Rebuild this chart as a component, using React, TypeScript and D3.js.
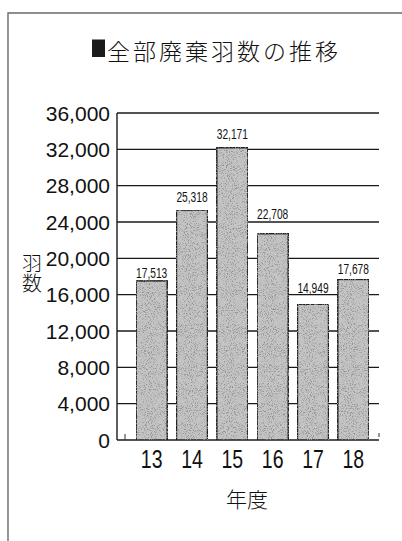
import React from "react";
import * as d3 from "d3";

// 全部廃棄羽数（年度別）
const years = ["13", "14", "15", "16", "17", "18"];
const counts = [17513, 25318, 32171, 22708, 14949, 17678];
const yTicks = [0, 4000, 8000, 12000, 16000, 20000, 24000, 28000, 32000, 36000];

const titleText = "全部廃棄羽数の推移";
const yTitle = "羽数";
const xTitle = "年度";

const W = 402;
const H = 541;
const plot = { left: 117, right: 379, top: 113, bottom: 440 };
// per-bar lift of the value label above the bar top
const labelLift = [3, 8, 9, 15, 11, 5];

const numFont = "'Liberation Sans', Arial, Helvetica, sans-serif";
const cjkFont = "'Noto Sans CJK JP', 'Noto Sans CJK SC', sans-serif";

export default function App() {
  const x = d3
    .scaleBand<string>()
    .domain(years)
    .range([131.5, 373.5])
    .paddingInner(0.23)
    .paddingOuter(0.115);
  const y = d3.scaleLinear().domain([0, 36000]).range([plot.bottom, plot.top]);
  const fmt = d3.format(",");

  return (
    <svg
      width={W}
      height={H}
      viewBox={`0 0 ${W} ${H}`}
      style={{ position: "absolute", left: 0, top: 0, background: "#fff" }}
    >
      <defs>
        <filter id="grain" x="0" y="0" width="100%" height="100%">
          <feTurbulence type="fractalNoise" baseFrequency="0.95" numOctaves="2" seed="7" result="noise" />
          <feColorMatrix
            in="noise"
            type="matrix"
            values="0 0 0 0 0.3  0 0 0 0 0.3  0 0 0 0 0.3  5 0 0 0 -2.55"
            result="dots"
          />
          <feComposite in="dots" in2="SourceGraphic" operator="in" result="clipped" />
          <feMerge>
            <feMergeNode in="SourceGraphic" />
            <feMergeNode in="clipped" />
          </feMerge>
        </filter>
      </defs>

      {/* frame */}
      <path d={`M8,${H} L8,13 L${W},13`} fill="none" stroke="#6a6a6a" strokeWidth={1.4} />

      {/* title */}
      <rect x={92} y={39.5} width={13} height={17.5} fill="#1a1a1a" />
      <text
        x={107}
        y={49.5}
        fontFamily={cjkFont}
        fontSize={23}
        fontWeight={300}
        letterSpacing={3}
        dominantBaseline="central"
        fill="#111"
      >
        {titleText}
      </text>

      {/* gridlines */}
      {yTicks
        .filter((t) => t > 0)
        .map((t) => (
          <line
            key={t}
            x1={plot.left}
            x2={plot.right}
            y1={y(t)}
            y2={y(t)}
            stroke="#1a1a1a"
            strokeWidth={1.4}
          />
        ))}

      {/* axes */}
      <line x1={plot.left} x2={plot.left} y1={plot.top} y2={plot.bottom} stroke="#1a1a1a" strokeWidth={1.4} />
      <line x1={plot.left} x2={plot.right} y1={plot.bottom} y2={plot.bottom} stroke="#1a1a1a" strokeWidth={1.6} />
      <line x1={125} x2={125} y1={434} y2={plot.bottom} stroke="#333" strokeWidth={1} />
      <line x1={plot.right} x2={plot.right} y1={433} y2={437} stroke="#333" strokeWidth={1} />

      {/* y tick labels */}
      {yTicks.map((t) => (
        <text
          key={t}
          x={110}
          y={y(t)}
          textAnchor="end"
          dominantBaseline="central"
          fontFamily={numFont}
          fontSize={21}
          fill="#111"
        >
          {fmt(t)}
        </text>
      ))}

      {/* bars */}
      {counts.map((v, i) => (
        <rect
          key={years[i]}
          x={x(years[i])}
          y={y(v)}
          width={x.bandwidth()}
          height={plot.bottom - y(v)}
          fill="#c4c4c4"
          stroke="#1a1a1a"
          strokeWidth={1.5}
          filter="url(#grain)"
        />
      ))}

      {/* value labels */}
      {counts.map((v, i) => {
        const cx = (x(years[i]) as number) + x.bandwidth() / 2;
        const by = y(v) - labelLift[i];
        return (
          <text
            key={years[i]}
            transform={`translate(${cx},${by}) scale(0.68,1)`}
            textAnchor="middle"
            fontFamily={numFont}
            fontSize={15}
            fill="#111"
          >
            {fmt(v)}
          </text>
        );
      })}

      {/* x tick labels */}
      {years.map((yr) => {
        const cx = (x(yr) as number) + x.bandwidth() / 2;
        return (
          <text
            key={yr}
            transform={`translate(${cx},468) scale(0.78,1)`}
            textAnchor="middle"
            fontFamily={numFont}
            fontSize={25}
            fill="#111"
          >
            {yr}
          </text>
        );
      })}

      {/* axis titles */}
      <text
        x={32}
        y={253}
        writingMode="tb"
        style={{ writingMode: "vertical-rl" }}
        fontFamily={cjkFont}
        fontSize={20}
        fontWeight={300}
        fill="#111"
      >
        {yTitle}
      </text>
      <text
        x={247}
        y={497.5}
        textAnchor="middle"
        dominantBaseline="central"
        fontFamily={cjkFont}
        fontSize={21}
        fontWeight={300}
        fill="#111"
      >
        {xTitle}
      </text>
    </svg>
  );
}
